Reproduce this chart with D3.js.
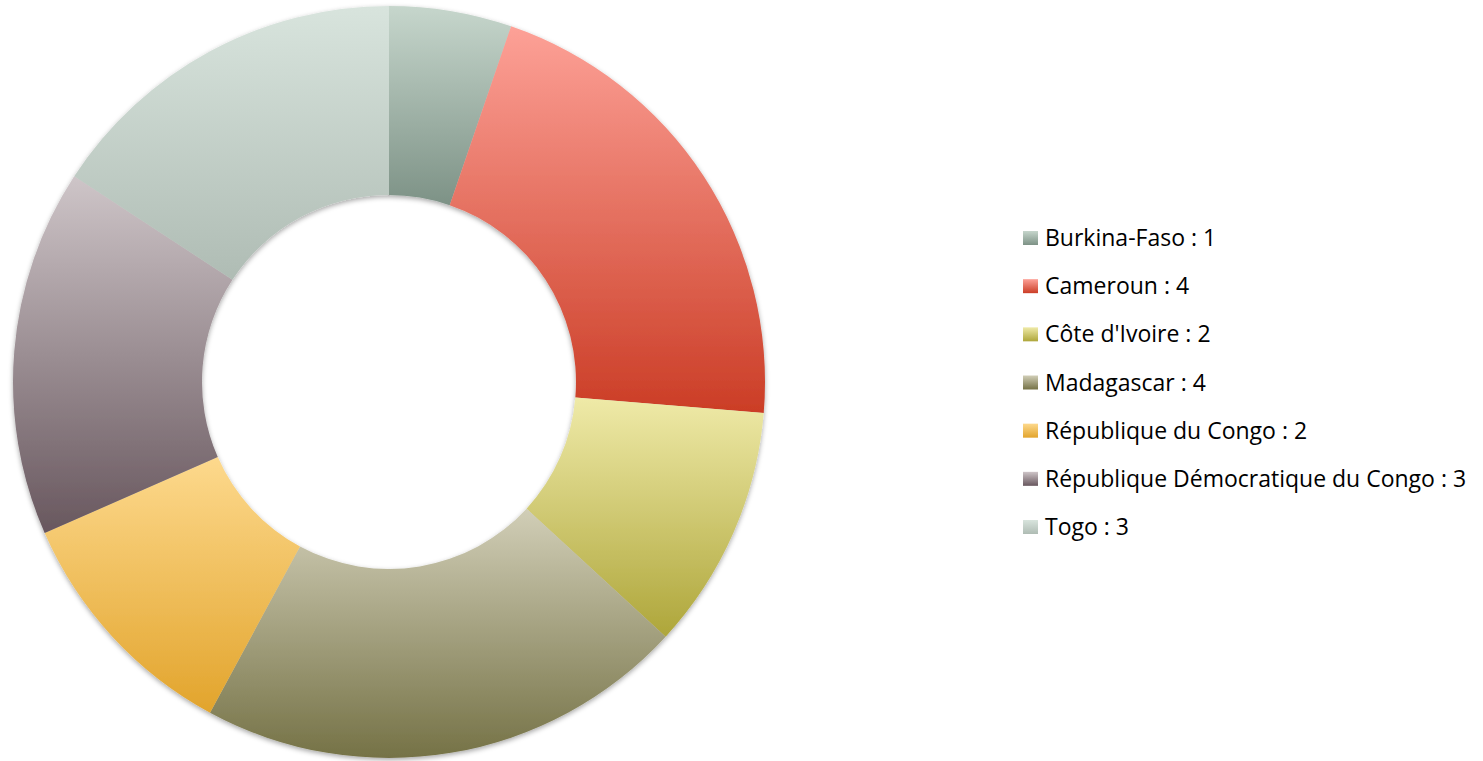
<!DOCTYPE html>
<html>
<head>
<meta charset="utf-8">
<script src="https://cdn.jsdelivr.net/npm/d3@7"></script>
<style>
body{margin:0;background:#fff;}
svg{display:block;}
</style>
</head>
<body>
<script>
var countries = ["Burkina-Faso","Cameroun","Côte d'Ivoire","Madagascar","République du Congo","République Démocratique du Congo","Togo"];
var counts = [1,4,2,4,2,3,3];
var topColors = ["#c6d6cc","#fda197","#efeaa8","#d1ceb7","#fdd98d","#cec5c8","#d8e4dd"];
var bottomColors = ["#7d9286","#cb3d26","#aea63a","#757246","#e2a42c","#68575e","#afbcb4"];

var width = 1483, height = 761;
var cx = 389, cy = 382, outerR = 376, innerR = 187;

var svg = d3.select("body").append("svg")
    .attr("width", width)
    .attr("height", height);

var defs = svg.append("defs");

// soft shadow like the office chart
var f = defs.append("filter").attr("id","shadow")
    .attr("x","-10%").attr("y","-10%").attr("width","120%").attr("height","120%");
f.append("feDropShadow")
    .attr("dx",0).attr("dy",2)
    .attr("stdDeviation",2.5)
    .attr("flood-color","#000")
    .attr("flood-opacity",0.35);

countries.forEach(function(c,i){
  var g = defs.append("linearGradient")
      .attr("id","grad"+i)
      .attr("x1",0).attr("y1",0).attr("x2",0).attr("y2",1);
  g.append("stop").attr("offset","0%").attr("stop-color",topColors[i]);
  g.append("stop").attr("offset","100%").attr("stop-color",bottomColors[i]);
});

var pie = d3.pie().sort(null).value(function(d){ return d; });
var arc = d3.arc().innerRadius(innerR).outerRadius(outerR);

var chart = svg.append("g")
    .attr("transform","translate("+cx+","+cy+")")
    .attr("filter","url(#shadow)");

chart.selectAll("path")
    .data(pie(counts))
  .enter().append("path")
    .attr("d", arc)
    .attr("fill", function(d,i){ return "url(#grad"+i+")"; });

// legend
var legendY = d3.scalePoint()
    .domain(countries)
    .range([238, 527]);

var legend = svg.append("g");
var item = legend.selectAll("g")
    .data(countries)
  .enter().append("g")
    .attr("transform", function(d){ return "translate(1023,"+legendY(d)+")"; });

item.append("rect")
    .attr("x",0).attr("y",-7)
    .attr("width",15).attr("height",14)
    .attr("fill", function(d,i){ return "url(#grad"+i+")"; });

item.append("text")
    .attr("x",22)
    .attr("y",0)
    .attr("dy","0.35em")
    .style("font-family","'Open Sans', 'Noto Sans', sans-serif")
    .style("font-size","23px")
    .style("fill","#000")
    .text(function(d,i){ return d+" : "+counts[i]; });
</script>
</body>
</html>
